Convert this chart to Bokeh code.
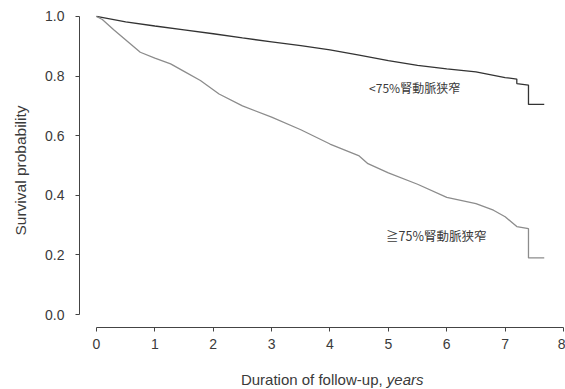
from bokeh.plotting import figure
from bokeh.models import Label, Range1d, FixedTicker
from bokeh.layouts import column
from bokeh.embed import file_html
from bokeh.resources import INLINE

# <75% renal artery stenosis
t_low = [0, 0.5, 1, 1.5, 2, 2.5, 3, 3.5, 4, 4.5, 5, 5.5, 6, 6.5, 7.0, 7.2, 7.2, 7.4, 7.4, 7.67]
s_low = [1.0, 0.982, 0.968, 0.955, 0.942, 0.928, 0.915, 0.902, 0.888, 0.87, 0.852, 0.836, 0.824,
         0.814, 0.795, 0.79, 0.775, 0.77, 0.705, 0.705]
# >=75% renal artery stenosis
t_high = [0, 0.1, 0.3, 0.75, 1.0, 1.27, 1.5, 1.78, 2.1, 2.5, 3.0, 3.5, 4.0, 4.5, 4.65, 5.0, 5.5,
          6.0, 6.5, 6.8, 7.0, 7.2, 7.4, 7.4, 7.67]
s_high = [1.0, 0.99, 0.955, 0.88, 0.86, 0.841, 0.816, 0.785, 0.74, 0.70, 0.662, 0.62, 0.572, 0.532,
          0.506, 0.475, 0.437, 0.393, 0.372, 0.35, 0.328, 0.295, 0.288, 0.19, 0.19]

x_ticks = [0, 1, 2, 3, 4, 5, 6, 7, 8]
y_ticks = [0.0, 0.2, 0.4, 0.6, 0.8, 1.0]
label_low = "<75%腎動脈狭窄"
label_high = "≧75%腎動脈狭窄"
x_title = "Duration of follow-up, "
x_title_unit = "years"

LAT = "Liberation Sans"
CJK = "Noto Sans CJK JP"
TXT = "#3a3a3a"

p = figure(width=565, height=358, output_backend="svg", toolbar_location=None,
           x_range=Range1d(-0.291, 8.017), y_range=Range1d(-0.0436, 1.010),
           min_border_left=79, min_border_right=1, min_border_top=13, min_border_bottom=31)
p.outline_line_color = None
p.grid.visible = False
p.background_fill_color = "white"

p.line(t_low, s_low, line_color="#333333", line_width=1.3)
p.line(t_high, s_high, line_color="#8c8c8c", line_width=1.3)

for ax in (p.xaxis[0], p.yaxis[0]):
    ax.axis_line_color = "#444444"
    ax.major_tick_line_color = "#444444"
    ax.major_tick_out = 4
    ax.major_tick_in = 0
    ax.minor_tick_line_color = None
    ax.major_label_text_font = LAT
    ax.major_label_text_font_size = "14px"
    ax.major_label_text_color = TXT

p.xaxis.major_label_standoff = 7
p.yaxis.major_label_standoff = 11
p.xaxis.ticker = FixedTicker(ticks=x_ticks)
p.yaxis.ticker = FixedTicker(ticks=y_ticks)
p.xaxis.bounds = (0, 8)
p.yaxis.bounds = (0, 1)
p.xaxis.major_label_overrides = {t: str(t) for t in x_ticks}
p.yaxis.major_label_overrides = {t: f"{t:.1f}" for t in y_ticks}

p.yaxis.axis_label = "Survival probability"
p.yaxis.axis_label_text_font = LAT
p.yaxis.axis_label_text_font_size = "15.5px"
p.yaxis.axis_label_text_font_style = "normal"
p.yaxis.axis_label_text_color = TXT
p.yaxis.axis_label_standoff = 13

p.add_layout(Label(x=4.67, y=0.762, text=label_low, text_align="left", text_baseline="middle",
                   text_font=CJK, text_font_size="12px", text_color=TXT))
p.add_layout(Label(x=4.96, y=0.265, text=label_high, text_align="left", text_baseline="middle",
                   text_font=CJK, text_font_size="12.5px", text_color=TXT))

# x-axis title strip (mixed roman / italic text)
t = figure(width=565, height=31, output_backend="svg", toolbar_location=None,
           x_range=Range1d(0, 565), y_range=Range1d(0, 31),
           min_border_left=0, min_border_right=0, min_border_top=0, min_border_bottom=0,
           x_axis_type=None, y_axis_type=None)
t.outline_line_color = None
t.grid.visible = False
t.add_layout(Label(x=358, y=10, text=x_title, text_align="right", text_baseline="middle",
                   text_font=LAT, text_font_size="15px", text_color=TXT))
t.add_layout(Label(x=358, y=10, text=x_title_unit, text_align="left", text_baseline="middle",
                   text_font=LAT, text_font_size="15px", text_font_style="italic",
                   text_color=TXT))

open("out.html", "w").write(file_html(column(p, t, spacing=0), INLINE))
